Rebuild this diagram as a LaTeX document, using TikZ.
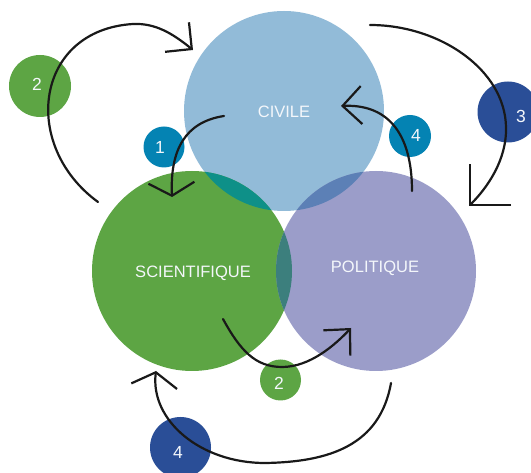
\documentclass[tikz,border=0pt]{standalone}
\usepackage{fontspec}
\setmainfont{Liberation Sans}
\usetikzlibrary{arrows.meta}
\definecolor{civ}{HTML}{92BBD8}
\definecolor{sci}{HTML}{5DA544}
\definecolor{pol}{HTML}{9B9DC9}
\definecolor{civsci}{HTML}{0E9088}
\definecolor{civpol}{HTML}{5C80B6}
\definecolor{scipol}{HTML}{3C7F7D}
\definecolor{tealdot}{HTML}{0483B3}
\definecolor{navydot}{HTML}{2A4E97}
\definecolor{greendot}{HTML}{5DA544}
\definecolor{txt}{HTML}{F4F7FB}
\begin{document}
\begin{tikzpicture}[x=1pt,y=-1pt,
  big/.style={circle,inner sep=0pt,minimum size=200pt},
  dot/.style={circle,inner sep=0pt},
  bigtext/.style={text=txt,font=\fontsize{16.5}{18}\selectfont,inner sep=0pt},
  numtext/.style={text=txt,font=\fontsize{17.5}{19}\selectfont,inner sep=0pt},
  conn/.style={line width=2.2pt,draw=black!90,line cap=round,line join=round}
]
\useasboundingbox (0,0) rectangle (531,473);
\clip (0,0) rectangle (531,473);
\fill[white] (0,0) rectangle (531,473);

% big circles
\node[big,fill=civ] (civ) at (284,111) {};
\node[big,fill=sci] (sci) at (192,271) {};
\node[big,fill=pol] (pol) at (376,271) {};
\begin{scope}
  \clip (284,111) circle (100);
  \fill[civsci] (192,271) circle (100);
  \fill[civpol] (376,271) circle (100);
\end{scope}
\begin{scope}
  \clip (192,271) circle (100);
  \fill[scipol] (376,271) circle (100);
\end{scope}
\node[bigtext] (tciv) at (284,112) {CIVILE};
\node[bigtext] (tsci) at (193,273) {SCIENTIFIQUE};
\node[bigtext] (tpol) at (375,268) {POLITIQUE};

% small numbered circles
\node[dot,fill=greendot,minimum size=62pt] (d2a) at (40,86) {};
\node[numtext] (n2a) at (37,84) {2};
\node[dot,fill=tealdot,minimum size=41pt] (d1) at (164,147) {};
\node[numtext] (n1) at (160,147) {1};
\node[dot,fill=tealdot,minimum size=42pt] (d4a) at (410,136) {};
\node[numtext] (n4a) at (416,135) {4};
\node[dot,fill=navydot,minimum size=61pt] (d3) at (508,112) {};
\node[numtext] (n3) at (521,116) {3};
\node[dot,fill=greendot,minimum size=41pt] (d2b) at (280.5,380) {};
\node[numtext] (n2b) at (279,383) {2};
\node[dot,fill=navydot,minimum size=61pt] (d4b) at (180.5,447.5) {};
\node[numtext] (n4b) at (178,452) {4};

% arrow end points
\coordinate (a1s) at (98,202);
\coordinate (a1m) at (133,24);
\coordinate (a1e) at (193,50);
\coordinate (b1s) at (224,116);
\coordinate (b1e) at (172,197);
\coordinate (c1s) at (412,191);
\coordinate (c1e) at (341,106);
\coordinate (d1s) at (370,25);
\coordinate (d1m) at (506,127);
\coordinate (d1e) at (469,206);
\coordinate (e1s) at (223,319);
\coordinate (e1m) at (282,367);
\coordinate (e1e) at (351,328);
\coordinate (f1s) at (391,383);
\coordinate (f1m) at (265,463);
\coordinate (f1e) at (156,371);

% arrows
\draw[conn,-{Straight Barb[length=19pt,width=38pt]}]
  (a1s) .. controls (20,145) and (35,30) .. (a1m)
        .. controls (155,23) and (172,33) .. (a1e);
\draw[conn,-{Straight Barb[length=13pt,width=46pt]}]
  (b1s) .. controls (185,122) and (170,150) .. (b1e);
\draw[conn,-{Straight Barb[length=19pt,width=38pt]}]
  (c1s) .. controls (412,130) and (385,104) .. (c1e);
\draw[conn,-{Straight Barb[length=29pt,width=58pt]}]
  (d1s) .. controls (440,25) and (505,70) .. (d1m)
        .. controls (507,160) and (487,188) .. (d1e);
\draw[conn,-{Straight Barb[length=19pt,width=37pt]}]
  (e1s) .. controls (240,350) and (255,367) .. (e1m)
        .. controls (310,367) and (335,345) .. (e1e);
\draw[conn,-{Straight Barb[length=14pt,width=46pt]}]
  (f1s) .. controls (380,445) and (330,462) .. (f1m)
        .. controls (200,463) and (150,420) .. (f1e);
\end{tikzpicture}
\end{document}
